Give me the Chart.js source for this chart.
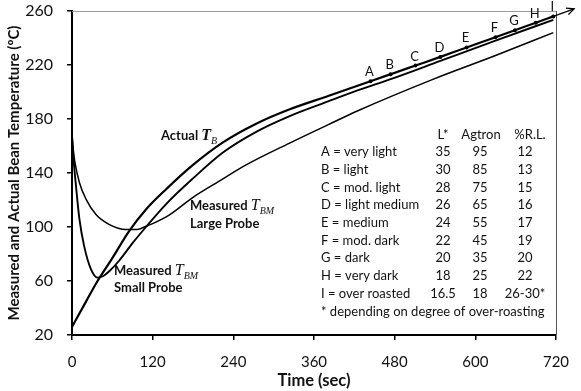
<!DOCTYPE html>
<html><head><meta charset="utf-8">
<script src="https://cdn.jsdelivr.net/npm/chart.js@4"></script>
<style>html,body{margin:0;padding:0;background:#fff}</style>
</head><body>
<canvas id="c" width="581" height="391" style="display:block;width:581px;height:391px"></canvas>
<script>
// ---------- data ----------
const xTickValues = [0, 120, 240, 360, 480, 600, 720];
const yTickValues = [20, 60, 100, 140, 180, 220, 260];

const actualTime = [0, 20, 38, 60, 85, 110, 140, 180, 224, 274, 323, 382, 444, 474, 511, 548, 587, 630, 659, 690, 716];
const actualTemp = [26, 44, 60, 77, 97, 113, 128, 146, 162.5, 176.5, 187, 197.2, 208, 213.2, 219.6, 226, 233, 240.6, 245.8, 251.3, 256];

const smallTime = [0, 2, 6, 11, 18, 28, 38, 46, 55, 70, 90, 110, 140, 180, 224, 274, 323, 382, 427, 474, 548, 630, 716];
const smallTemp = [168, 152, 130, 106, 86, 69, 62.5, 63.5, 67, 75, 88, 100, 117, 136, 155, 170.5, 182, 193.2, 201.5, 209.5, 223, 238, 253.5];

const largeTime = [0, 2, 4, 11, 21, 36, 55, 80, 97, 110, 120, 145, 180, 219, 259, 323, 382, 427, 535, 630, 716];
const largeTemp = [168, 157, 149, 133, 120.5, 109, 102, 98.2, 98.2, 100.5, 102.5, 109, 122, 134, 146, 162, 176, 186.5, 209, 227, 244];

const markerLabels = ['A', 'B', 'C', 'D', 'E', 'F', 'G', 'H', 'I'];
const markerTime = [444, 474, 511, 548, 587, 630, 659, 690, 716];
const markerTemp = [208, 213.2, 219.6, 226, 233, 240.6, 245.8, 251.3, 256];

const tableHeader = ['L*', 'Agtron', '%R.L.'];
const roastNames = ['A = very light', 'B = light', 'C = mod. light', 'D = light medium', 'E = medium', 'F = mod. dark', 'G = dark', 'H = very dark', 'I = over roasted'];
const lStar = ['35', '30', '28', '26', '24', '22', '20', '18', '16.5'];
const agtron = ['95', '85', '75', '65', '55', '45', '35', '25', '18'];
const pctRL = ['12', '13', '15', '16', '17', '19', '20', '22', '26-30*'];
const footnote = '* depending on degree of over-roasting';

const xTitle = 'Time (sec)';
const yTitle = 'Measured and Actual Bean Temperature (\u00BAC)';

// ---------- helpers ----------
const pts = (xs, ys) => xs.map((v, i) => ({x: v, y: ys[i]}));
const SANS = 'Lato, "Liberation Sans", sans-serif';
const SERIF = '"Liberation Serif", "DejaVu Serif", serif';

function rich(ctx, x, y, parts) {
  let cx = x;
  for (const p of parts) {
    ctx.font = p.f;
    ctx.fillText(p.t, cx, y + (p.dy || 0));
    cx += ctx.measureText(p.t).width + (p.gap || 0);
  }
}

const decor = {
  id: 'decor',
  beforeDatasetsDraw(chart) {
    const {ctx, chartArea: a} = chart;
    ctx.save();
    ctx.lineWidth = 1;
    ctx.strokeStyle = '#9a9a9a';
    ctx.beginPath(); ctx.moveTo(a.left, a.top + 0.5); ctx.lineTo(a.right, a.top + 0.5); ctx.stroke();
    ctx.strokeStyle = '#555';
    ctx.beginPath(); ctx.moveTo(a.right + 0.5, a.top); ctx.lineTo(a.right + 0.5, a.bottom); ctx.stroke();
    ctx.restore();
  },
  afterDatasetsDraw(chart) {
    const {ctx, scales: {x, y}} = chart;
    ctx.save();
    // arrow continuing the actual curve
    const n = actualTime.length;
    const x1 = x.getPixelForValue(actualTime[n - 2]), y1 = y.getPixelForValue(actualTemp[n - 2]);
    const x2 = x.getPixelForValue(actualTime[n - 1]), y2 = y.getPixelForValue(actualTemp[n - 1]);
    const ang = Math.atan2(y2 - y1, x2 - x1);
    const L = 22;
    const tx = x2 + L * Math.cos(ang), ty = y2 + L * Math.sin(ang);
    ctx.strokeStyle = '#000'; ctx.lineWidth = 1.4;
    ctx.beginPath(); ctx.moveTo(x2, y2); ctx.lineTo(tx, ty); ctx.stroke();
    const h = 8;
    ctx.beginPath();
    ctx.moveTo(tx - h * Math.cos(ang - 0.45), ty - h * Math.sin(ang - 0.45));
    ctx.lineTo(tx, ty);
    ctx.lineTo(tx - h * Math.cos(ang + 0.45), ty - h * Math.sin(ang + 0.45));
    ctx.stroke();

    ctx.fillStyle = '#111';
    // marker letters
    ctx.font = '13px ' + SANS;
    ctx.textAlign = 'center'; ctx.textBaseline = 'alphabetic';
    markerLabels.forEach((lab, i) => {
      const px = x.getPixelForValue(markerTime[i]);
      const py = y.getPixelForValue(markerTemp[i]);
      ctx.fillText(lab, px - 1, py - 5);
    });

    // curve labels
    ctx.textAlign = 'left';
    const B = 'bold 13px ' + SANS;
    rich(ctx, 161, 140, [
      {t: 'Actual ', f: B},
      {t: 'T', f: 'italic bold 16px ' + SERIF},
      {t: 'B', f: 'italic 10px ' + SERIF, dy: 4}
    ]);
    rich(ctx, 190, 210, [
      {t: 'Measured ', f: B},
      {t: 'T', f: 'italic 16px ' + SERIF},
      {t: 'BM', f: 'italic 10px ' + SERIF, dy: 4}
    ]);
    ctx.font = B; ctx.fillText('Large Probe', 190, 228);
    rich(ctx, 114, 275, [
      {t: 'Measured ', f: B},
      {t: 'T', f: 'italic 16px ' + SERIF},
      {t: 'BM', f: 'italic 10px ' + SERIF, dy: 4}
    ]);
    ctx.font = B; ctx.fillText('Small Probe', 114, 292);

    // table
    ctx.font = '13px ' + SANS;
    ctx.textBaseline = 'middle';
    ctx.textAlign = 'center';
    ctx.fillText(tableHeader[0], 443, 135);
    ctx.fillText(tableHeader[1], 481, 135);
    ctx.fillText(tableHeader[2], 530, 135);
    roastNames.forEach((nm, i) => {
      const ry = 152 + i * 17.7;
      ctx.textAlign = 'left';
      ctx.fillText(nm, 321, ry);
      ctx.textAlign = 'center';
      ctx.fillText(lStar[i], 443, ry);
      ctx.fillText(agtron[i], 480, ry);
      ctx.fillText(pctRL[i], 525, ry);
    });
    ctx.textAlign = 'left';
    ctx.fillText(footnote, 321, 312);
    ctx.restore();
  }
};

const lineDs = (data, w) => ({
  type: 'line', data, borderColor: '#000', borderWidth: w, pointRadius: 0,
  cubicInterpolationMode: 'monotone', fill: false
});

new Chart(document.getElementById('c'), {
  type: 'line',
  data: {
    datasets: [
      lineDs(pts(actualTime, actualTemp), 2.2),
      lineDs(pts(smallTime, smallTemp), 1.9),
      lineDs(pts(largeTime, largeTemp), 1.5),
      {type: 'scatter', data: pts(markerTime, markerTemp), pointRadius: 2, pointBackgroundColor: '#000', pointBorderWidth: 0, showLine: false}
    ]
  },
  options: {
    responsive: false,
    animation: false,
    events: [],
    layout: {padding: {top: 11, right: 25, left: 0, bottom: 0}},
    plugins: {legend: {display: false}, tooltip: {enabled: false}},
    scales: {
      x: {
        type: 'linear', min: 0, max: 720,
        afterBuildTicks: s => { s.ticks = xTickValues.map(v => ({value: v})); },
        afterFit: s => { s.height = 56; s.paddingRight = 0; s.paddingLeft = 0; },
        grid: {drawOnChartArea: false, drawTicks: true, tickLength: 5, color: '#000', lineWidth: 1.5},
        border: {color: '#000', width: 2},
        ticks: {color: '#111', font: {family: SANS, size: 15}, padding: 13, maxRotation: 0},
        title: {display: true, text: xTitle, color: '#111', font: {family: SANS, size: 16.5, weight: 'bold'}, padding: {top: 0, bottom: 0}}
      },
      y: {
        type: 'linear', min: 20, max: 260,
        afterBuildTicks: s => { s.ticks = yTickValues.map(v => ({value: v})); },
        afterFit: s => { s.width = 72; s.paddingTop = 0; s.paddingBottom = 0; },
        grid: {drawOnChartArea: false, drawTicks: true, tickLength: 5, color: '#000', lineWidth: 1.5},
        border: {color: '#000', width: 2},
        ticks: {color: '#111', font: {family: SANS, size: 16}, padding: 14},
        title: {display: true, text: yTitle, color: '#111', font: {family: SANS, size: 15, weight: 'bold'}, padding: {top: 5, bottom: 0}}
      }
    }
  },
  plugins: [decor]
});
</script>
</body></html>
